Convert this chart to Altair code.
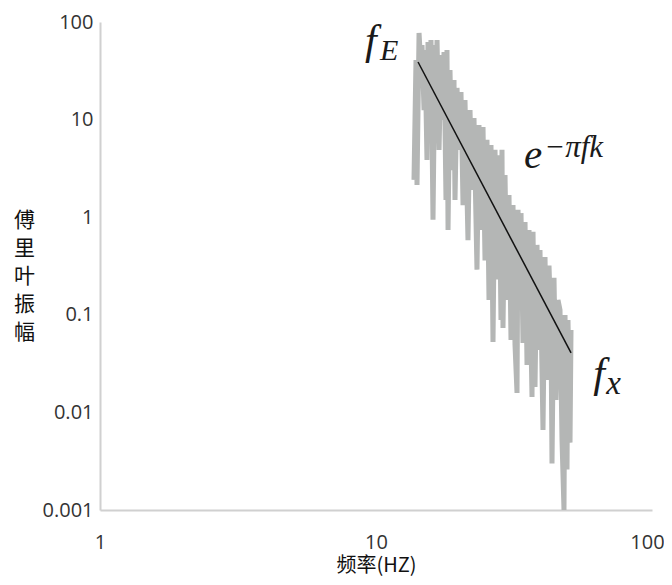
import altair as alt
import pandas as pd

# Spectrum (grey)
freq = [13.73, 13.96, 14.08, 14.32, 14.56, 14.68, 14.93, 15.05, 15.30, 15.43,
        15.69, 15.82, 16.09, 16.36, 16.50, 16.64, 16.92, 17.20, 17.35, 17.64,
        17.93, 18.08, 18.24, 18.54, 18.85, 19.17, 19.33, 19.66, 19.99, 20.32,
        20.67, 21.01, 21.54, 21.91, 22.27, 22.65, 23.22, 23.61, 24.01, 24.42,
        24.83, 25.24, 25.67, 26.10, 26.54, 26.99, 27.44, 27.90, 28.37, 28.61,
        28.85, 29.34, 29.83, 30.33, 30.84, 31.36, 31.89, 32.43, 32.70, 33.25,
        33.53, 34.09, 34.67, 35.25, 35.84, 36.75, 37.06, 37.68, 38.31, 38.96,
        39.28, 40.28, 40.96, 41.64, 42.35, 43.06, 43.42, 44.15, 44.89, 45.65,
        46.42, 47.20, 47.99, 48.40, 49.21, 49.62, 50.46, 50.88]
amp = [2.41, 40.8, 2.14, 77.2, 32.2, 58.1, 12.5, 51.7, 3.86, 62.4,
       20.1, 65.4, 0.94, 58.1, 15.9, 65.4, 4.9, 45.9, 9.9, 49.3,
       1.50, 51.7, 0.74, 32.2, 3.04, 25.5, 1.50, 21.1, 4.9, 19.2,
       1.33, 15.9, 0.58, 12.5, 1.90, 10.4, 0.29, 8.8, 0.74, 8.4,
       0.36, 6.2, 0.142, 5.5, 0.0526, 4.9, 0.23, 4.3, 0.0885, 4.9,
       0.0732, 2.71, 0.142, 1.69, 0.0552, 1.33, 0.049, 0.0158, 1.19, 0.142,
       1.10, 0.0514, 0.89, 0.0306, 0.74, 0.0144, 0.71, 0.0182, 0.52, 0.0436,
       0.46, 0.0066, 0.39, 0.0215, 0.32, 0.0699, 0.0030, 0.24, 0.0134, 0.142,
       0.112, 0.0052, 0.001, 0.0995, 0.0026, 0.0885, 0.0049, 0.0699]

# Fitted decay line (black)
fit_freq = [14.2, 50.9]
fit_amp = [38.9, 0.0407]

# Annotations
ann_text = ["f", "E", "e", "\u2212\u03c0fk", "f", "x"]
ann_freq = [9.12, 10.34, 34.4, 40.7, 61.2, 68.3]
ann_amp = [47.0, 40.8, 3.19, 4.14, 0.0184, 0.0156]
ann_size = [42, 30, 41, 31, 42, 33]

x_ticks = [1, 10, 100]
y_ticks = [0.001, 0.01, 0.1, 1, 10, 100]

spec_df = pd.DataFrame({"f": freq, "a": amp})
fit_df = pd.DataFrame({"f": fit_freq, "a": fit_amp})
ann_df = pd.DataFrame({"t": ann_text, "f": ann_freq, "a": ann_amp, "s": ann_size})

xscale = alt.Scale(type="log", domain=[1, 100], nice=False)
yscale = alt.Scale(type="log", domain=[0.001, 100], nice=False)

xaxis = alt.Axis(values=x_ticks, format="~g", title="频率(HZ)", grid=False, ticks=False,
                 domainColor="#d0d0d0", domainWidth=2, labelFontSize=20,
                 labelFont="Open Sans", labelColor="#333333", labelPadding=22,
                 labelFlush=False,
                 labelOffset={"condition": {"test": "datum.value >= 100", "value": -5},
                              "value": 0},
                 titleFont="Noto Sans CJK SC", titleFontSize=20, titleFontWeight="normal",
                 titleColor="#111111", titleY=55, titleBaseline="middle")
yaxis = alt.Axis(values=y_ticks, format="~g", title=["傅", "里", "叶", "振", "幅"],
                 grid=False, ticks=False, domainColor="#d0d0d0", domainWidth=2,
                 labelFontSize=20, labelFont="Open Sans", labelColor="#333333",
                 labelPadding=7, titleAngle=0, titleFont="Noto Sans CJK SC",
                 titleFontSize=21, titleFontWeight="normal", titleColor="#111111",
                 titleX=-76, titleY=187, titleAlign="center", titleBaseline="top",
                 titleLineHeight=28)

spec = alt.Chart(spec_df).mark_line(color="#b4b6b5", strokeWidth=5, clip=True).encode(
    x=alt.X("f:Q", scale=xscale, axis=xaxis),
    y=alt.Y("a:Q", scale=yscale, axis=yaxis),
)

fit = alt.Chart(fit_df).mark_line(color="#111111", strokeWidth=1.5).encode(
    x=alt.X("f:Q", scale=xscale),
    y=alt.Y("a:Q", scale=yscale),
)

ann = alt.Chart(ann_df).mark_text(font="Liberation Serif", fontStyle="italic",
                                  align="left", baseline="alphabetic",
                                  color="#1a1a1a").encode(
    x=alt.X("f:Q", scale=xscale),
    y=alt.Y("a:Q", scale=yscale),
    text="t:N",
    size=alt.Size("s:Q", scale=None, legend=None),
)

chart = alt.layer(spec, fit, ann).properties(
    width=552, height=488,
    autosize=alt.AutoSizeParams(type="none"),
    padding={"left": 92, "top": 14, "right": 12, "bottom": 67},
).configure_view(stroke=None)

chart.save("out.html", embed_options={"renderer": "svg", "actions": False})
